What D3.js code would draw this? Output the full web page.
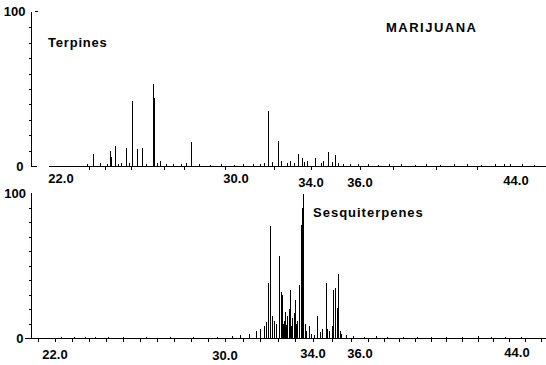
<!DOCTYPE html>
<html><head><meta charset="utf-8">
<script src="https://cdn.jsdelivr.net/npm/d3@7"></script>
<style>
html,body{margin:0;padding:0;background:#fff;}
svg{display:block;}
text{font-family:"Liberation Sans",Arial,sans-serif;font-weight:bold;fill:#000;}
</style></head>
<body>
<svg id="chart" width="546" height="365"></svg>
<script>
// ---------- DATA ----------
const tickLabels = ["22.0", "30.0", "34.0", "36.0", "44.0"];
const tickValues = [22, 30, 34, 36, 44];
const yTickLabels = ["0", "100"];

// Terpenes panel: retention time (min) and relative abundance (%)
const terpTimes = [20.63, 23.45, 24.24, 24.29, 24.47, 24.74, 24.97, 25.23, 25.46, 25.70,
  26.22, 26.26, 26.53, 27.92, 27.95, 31.68, 31.72, 32.22, 33.32, 33.50, 34.16, 34.71, 34.98];
const terpValues = [13, 8, 9.5, 6, 13, 2, 12, 42.5, 11, 11.5,
  53, 44, 3, 13, 15.5, 14, 35.5, 16.5, 8, 5, 5, 9, 7];
// small baseline noise (Terpenes)
const terpNoiseTimes = [23.2, 23.8, 24.1, 24.6, 25.1, 25.9, 26.4, 26.8, 27.1, 27.5, 27.7, 28.3,
  28.8, 29.3, 29.9, 30.4, 30.9, 31.3, 31.5, 31.9, 32.4, 32.7, 32.9, 33.1, 33.6, 33.8,
  34.4, 34.5, 34.85, 35.1, 35.3, 35.6, 35.9, 36.4, 36.9, 37.5, 38.1, 38.8, 39.4, 40.1,
  40.8, 41.5, 42.2, 42.9, 43.4, 43.7, 44.3, 44.9];
const terpNoiseValues = [1, 2, 1.5, 1, 2, 1, 2, 1, 1, 1.5, 2, 1,
  0.8, 1, 0.8, 1, 1, 1.5, 2, 2.5, 3, 2, 3, 2, 2.5, 3,
  2, 3, 2.5, 2, 1.5, 1, 1.2, 1, 0.8, 1, 1, 0.8, 1, 0.8,
  1, 1, 0.8, 1, 1.2, 1.5, 1, 0.8];

// Sesquiterpenes panel
const sesqTimes = [31.86, 31.97, 32.04, 32.12, 32.22, 32.32, 32.45, 32.53, 32.59, 32.66, 32.73, 32.82,
  32.89, 32.97, 33.05, 33.14, 33.18, 33.27, 33.38, 33.45, 33.51, 33.56, 33.64, 33.80,
  34.18, 34.38, 34.54, 34.60, 34.80, 34.86, 34.94, 35.01, 35.08, 35.15];
const sesqValues = [11, 38, 77, 15, 12, 10, 56.5, 32, 30, 12, 18, 15,
  20, 33, 14, 17, 26, 12, 36.5, 78, 90, 99, 10, 8,
  15, 6, 38, 6, 8, 33, 34.5, 21, 44, 5];
const sesqNoiseTimes = [22.3, 22.9, 23.4, 23.9, 24.5, 25.2, 26.3, 27.4, 28.5, 29.6, 30.3, 30.7,
  31.1, 31.4, 31.6, 31.75, 32.15, 32.3, 32.62, 32.78, 33.0, 33.22, 33.7, 33.9, 34.05,
  34.3, 34.7, 35.2, 35.4, 35.7, 36.2, 36.8, 37.4, 38.2, 38.9, 39.6, 40.4, 41.2, 42.0, 42.7, 43.4, 44.2];
const sesqNoiseValues = [0.8, 1, 0.8, 1, 0.8, 1, 0.8, 1, 0.8, 1, 1.5, 2,
  3, 5, 6, 8, 9, 7, 10, 9, 8, 10, 5, 3, 2,
  4, 5, 3, 2, 1.5, 1, 1.5, 1, 0.8, 1, 0.8, 1, 0.8, 1.5, 1, 0.8, 0.8];

// ---------- DRAW ----------
const svg = d3.select("#chart");
svg.append("rect").attr("width", 546).attr("height", 365).attr("fill", "#fff");

function panel(cfg) {
  const g = svg.append("g").attr("shape-rendering", "crispEdges");
  const x = d3.scaleLinear().domain(tickValues).range(cfg.labelX);
  const y = d3.scaleLinear().domain([0, 100]).range([cfg.y0, cfg.y100]);
  const px = v => Math.round(x(v)) + 0.5;
  const base = y(0);

  // y axis
  g.append("line").attr("x1", 31.5).attr("x2", 31.5).attr("y1", y(100)).attr("y2", base + 0.5)
    .attr("stroke", "#000");
  g.selectAll(".ytk").data(d3.range(10, 100, 10)).join("line")
    .attr("x1", 29).attr("x2", 31).attr("y1", d => Math.round(y(d)) + 0.5).attr("y2", d => Math.round(y(d)) + 0.5)
    .attr("stroke", "#000");

  // x axis / baseline
  g.append("line").attr("x1", 31).attr("x2", cfg.axisStubEnd).attr("y1", base + 0.5).attr("y2", base + 0.5)
    .attr("stroke", "#000");
  g.append("line").attr("x1", x(cfg.traceStart)).attr("x2", 546).attr("y1", base + 0.5).attr("y2", base + 0.5)
    .attr("stroke", "#000");
  g.selectAll(".xtk").data(cfg.minorTicks).join("line")
    .attr("x1", d => px(d)).attr("x2", d => px(d)).attr("y1", base + 1).attr("y2", base + 4)
    .attr("stroke", "#000");

  // noise
  g.selectAll(".noise").data(cfg.noiseT).join("line")
    .attr("x1", d => px(d)).attr("x2", d => px(d))
    .attr("y1", base).attr("y2", (d, i) => y(cfg.noiseV[i]))
    .attr("stroke", "#000");
  // peaks
  g.selectAll(".peak").data(cfg.times).join("line")
    .attr("x1", d => px(d)).attr("x2", d => px(d))
    .attr("y1", base).attr("y2", (d, i) => y(cfg.values[i]))
    .attr("stroke", "#000");

  // labels
  svg.append("g").selectAll("text").data(tickLabels).join("text")
    .attr("x", (d, i) => x(tickValues[i]))
    .attr("y", (d, i) => cfg.labelY[i])
    .attr("text-anchor", "middle").attr("font-size", 13).text(d => d);
  svg.append("text").attr("x", cfg.y0LabelX).attr("y", cfg.y0LabelY).attr("text-anchor", "end")
    .attr("font-size", 13).text(yTickLabels[0]);
  svg.append("text").attr("x", cfg.y100LabelX).attr("y", cfg.y100LabelY).attr("text-anchor", "end")
    .attr("font-size", 13).text(yTickLabels[1]);
  return { x, y, g };
}

const topPanel = panel({
  labelX: [61, 236, 311, 360, 516], y0: 166, y100: 12,
  labelY: [183, 183, 187, 186.5, 185],
  axisStubEnd: 37, traceStart: 21.45,
  minorTicks: [23.3, 24.0, 25.2, 26.7, 27.6, 29.5, 32.0, 34.0, 36.0, 37.7, 39.9, 42.0],
  times: terpTimes, values: terpValues, noiseT: terpNoiseTimes, noiseV: terpNoiseValues,
  y0LabelX: 23.5, y0LabelY: 170.5, y100LabelX: 25.5, y100LabelY: 15.5
});
topPanel.g.append("line").attr("x1", 35).attr("x2", 38).attr("y1", 11.5).attr("y2", 11.5).attr("stroke", "#000");

const botPanel = panel({
  labelX: [55, 225, 313, 360, 517], y0: 338, y100: 193,
  labelY: [358.5, 359.5, 358, 358, 357],
  axisStubEnd: 546, traceStart: 20.6,
  minorTicks: d3.range(21.2, 46, 0.8),
  times: sesqTimes, values: sesqValues, noiseT: sesqNoiseTimes, noiseV: sesqNoiseValues,
  y0LabelX: 23.5, y0LabelY: 343, y100LabelX: 26, y100LabelY: 198
});

svg.append("text").attr("x", 386).attr("y", 31.5).attr("font-size", 13)
  .attr("letter-spacing", 1.5).text("MARIJUANA");
svg.append("text").attr("x", 48).attr("y", 47).attr("font-size", 13)
  .attr("letter-spacing", 0.8).text("Terpines");
svg.append("text").attr("x", 313).attr("y", 217).attr("font-size", 13)
  .attr("letter-spacing", 1).text("Sesquiterpenes");
</script>
</body></html>
